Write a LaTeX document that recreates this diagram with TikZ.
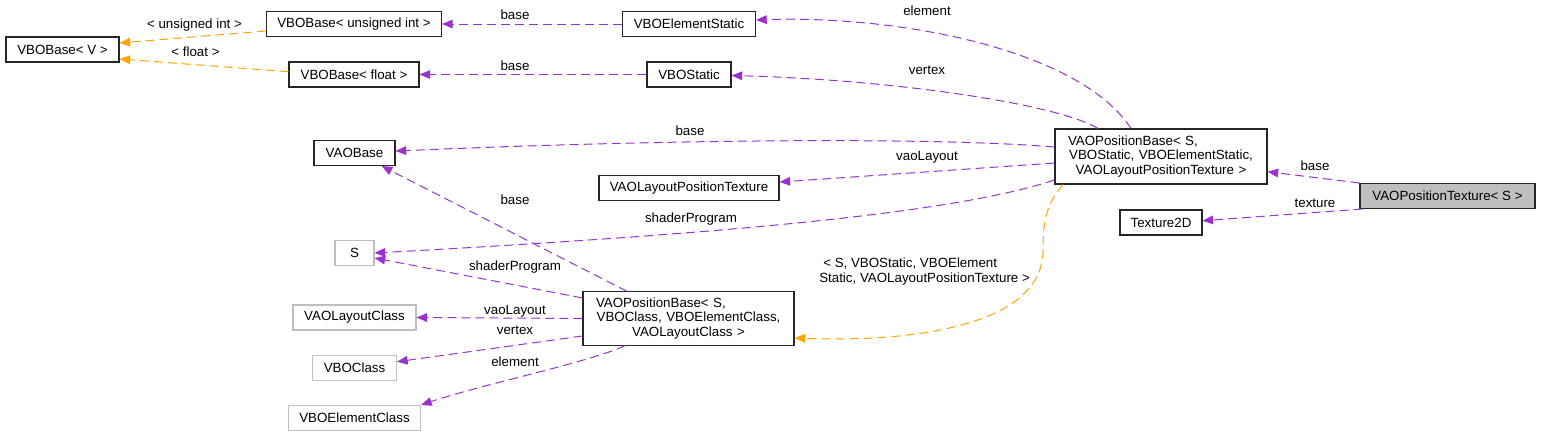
\documentclass[tikz,border=0pt]{standalone}
\usepackage{fontspec}
\setmainfont{Liberation Sans}
\usetikzlibrary{arrows.meta}
\definecolor{edgepurple}{HTML}{9A32CD}
\definecolor{edgeorange}{HTML}{FFA500}
\definecolor{boxgray}{HTML}{BFBFBF}
\begin{document}
\begin{tikzpicture}[x=0.75pt,y=-0.75pt,
  cls/.style={draw=black!85, line width=0.8pt, fill=white, minimum height=18.75pt, inner sep=0pt, font=\fontsize{10}{10.7}\selectfont},
  ext/.style={cls, draw=boxgray},
  cur/.style={cls, fill=boxgray},
  multi/.style={cls, inner xsep=9.75pt, inner ysep=0pt, align=center},
  lab/.style={font=\fontsize{10}{11.25}\selectfont, inner sep=0pt},
  rel/.style={draw=edgepurple, line width=0.75pt, dash pattern=on 6.75pt off 3.75pt, -{Triangle[length=8pt,width=6.5pt]}},
  tpl/.style={rel, draw=edgeorange},
]
\useasboundingbox (0,0) rectangle (1541,437);

% nodes
\node[cls, minimum width=84.75pt] (vv) at (62.5,49.5) {VBOBase< V >};
\node[cls, minimum width=131.25pt] (uint) at (354,24) {VBOBase< unsigned int >};
\node[cls, minimum width=97.5pt] (flt) at (354,74.5) {VBOBase< float >};
\node[cls, minimum width=99.75pt] (es) at (689,24) {VBOElementStatic};
\node[cls, minimum width=63pt] (vs) at (689,74.5) {VBOStatic};
\node[cls, minimum width=60.75pt] (vaobase) at (354.5,153) {VAOBase};
\node[cls, minimum width=135pt] (vlpt) at (689,188) {VAOLayoutPositionTexture};
\node[ext, minimum width=29.25pt] (s) at (354.5,253) {S};
\node[ext, minimum width=92.25pt] (vlc) at (354.5,317.5) {VAOLayoutClass};
\node[ext, minimum width=63pt] (vboclass) at (354.5,368) {VBOClass};
\node[ext, minimum width=99pt] (vbec) at (354.5,418) {VBOElementClass};
\node[multi, text width=138.75pt, minimum width=158.25pt, minimum height=40pt] (vpbc) at (688.5,318.5)
  {\makebox[138.75pt][l]{VAOPositionBase< S,}\\ VBOClass, VBOElementClass,\\ VAOLayoutClass >};
\node[multi, text width=139.5pt, minimum width=159pt, minimum height=41.25pt] (vpb) at (1161,156.5)
  {\makebox[139.5pt][l]{VAOPositionBase< S,}\\ VBOStatic, VBOElementStatic,\\ VAOLayoutPositionTexture >};
\node[cls, minimum width=61.5pt] (tex) at (1161,222.5) {Texture2D};
\node[cur, minimum width=131.25pt] (vpt) at (1447.5,196) {VAOPositionTexture< S >};

% edges
\draw[tpl] ([yshift=-5.25pt]uint.west) -- ([yshift=4.9pt]vv.east);
\draw[tpl] ([yshift=2.1pt]flt.west) -- ([yshift=-7.1pt]vv.east);
\draw[rel] (es.west) -- (uint.east);
\draw[rel] (vs.west) -- (flt.east);
\draw[rel] ([xshift=-22.5pt]vpb.north) .. controls (1080,50) and (900,15) .. ([yshift=3pt]es.east);
\draw[rel] ([xshift=-47.25pt]vpb.north) .. controls (1060,105) and (900,80) .. ([yshift=-0.75pt]vs.east);
\draw[rel] ([yshift=7.1pt]vpb.west) .. controls (950,138) and (700,138) .. ([yshift=1.5pt]vaobase.east);
\draw[rel] ([yshift=-4.9pt]vpb.west) -- ([yshift=4.5pt]vlpt.east);
\draw[rel] ([yshift=-17.6pt]vpb.west) .. controls (950,215) and (700,235) .. (s.east);
\draw[rel] ([xshift=-46.1pt]vpbc.north) -- ([xshift=20.4pt]vaobase.south);
\draw[rel] ([yshift=15.4pt]vpbc.west) -- ([yshift=-3.75pt]s.east);
\draw[rel] (vpbc.west) -- (vlc.east);
\draw[rel] ([yshift=-13.1pt]vpbc.west) -- ([yshift=4.7pt]vboclass.east);
\draw[rel] ([xshift=-47.6pt]vpbc.south) .. controls (590,362) and (480,385) .. (vbec.north east);
\draw[tpl] ([xshift=-73.5pt]vpb.south) .. controls (1045,205) and (1043,225) .. (1043,250)
  .. controls (1043,330) and (900,342) .. ([yshift=-14.6pt]vpbc.east);
\draw[rel] (vpt.north west) -- ([yshift=-11.4pt]vpb.east);
\draw[rel] ([xshift=2.25pt]vpt.south west) -- ([yshift=1.35pt]tex.east);

% labels
\node[lab] (l1) at (194.5,25) {< unsigned int >};
\node[lab] (l2) at (195.5,52) {< float >};
\node[lab] (l3) at (515,15) {base};
\node[lab] (l4) at (515,66) {base};
\node[lab] (l5) at (927,11) {element};
\node[lab] (l6) at (927,70) {vertex};
\node[lab] (l7) at (690,131) {base};
\node[lab] (l8) at (927,157) {vaoLayout};
\node[lab] (l9) at (691,219) {shaderProgram};
\node[lab] (l10) at (515,200) {base};
\node[lab] (l11) at (515,267) {shaderProgram};
\node[lab] (l12) at (515,311) {vaoLayout};
\node[lab] (l13) at (515,330.5) {vertex};
\node[lab] (l14) at (515,362) {element};
\node[lab] (l15) at (1315,166) {base};
\node[lab] (l16) at (1315,203) {texture};
\node[lab, align=left, anchor=west] (l17) at (819,272) {\hspace{3pt}< S, VBOStatic, VBOElement\\Static, VAOLayoutPositionTexture >};
\end{tikzpicture}
\end{document}
